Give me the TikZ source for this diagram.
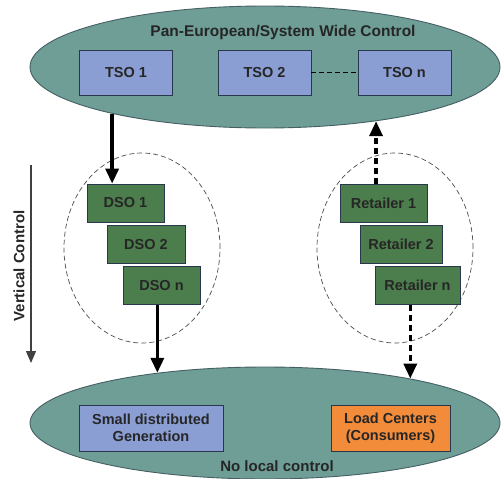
\documentclass[tikz,border=0pt]{standalone}
\usepackage{fontspec}
\setmainfont{Liberation Sans}
\usepackage{tikz}
\usetikzlibrary{arrows.meta}
\usetikzlibrary{shapes.geometric}
\definecolor{areagreen}{RGB}{110,158,150}
\definecolor{areaedge}{RGB}{70,95,100}
\definecolor{tsoblue}{RGB}{138,158,212}
\definecolor{boxedge}{RGB}{40,55,75}
\definecolor{dsogreen}{RGB}{76,125,76}
\definecolor{loadorange}{RGB}{242,140,58}
\colorlet{textdark}{black!85}

\begin{document}
\begin{tikzpicture}[x=1pt,y=-1pt,
		area/.style={ellipse, draw=areaedge, fill=areagreen, line width=0.9pt, inner sep=0pt},
		group/.style={ellipse, draw=black!70, dashed, dash pattern=on 5pt off 3pt, line width=0.7pt, inner sep=0pt},
		box/.style={draw=boxedge, line width=0.8pt, inner sep=0pt, align=center, text=textdark,
			font=\fontsize{14.5}{17}\selectfont\bfseries},
		tsobox/.style={box, fill=tsoblue, minimum width=93pt, minimum height=45pt},
		dsobox/.style={box, fill=dsogreen, minimum height=38pt},
		label/.style={text=textdark, font=\fontsize{15}{17}\selectfont\bfseries},
		ctrl/.style={line width=3.4pt, -{Triangle[width=13pt,length=15pt]}},
		ctrldash/.style={ctrl, dash pattern=on 6pt off 4pt}]
		\useasboundingbox (0,0) rectangle (501,479);
		% transmission level
		\node[area, minimum width=470pt, minimum height=122pt] (pan) at (265,67) {};
		\node[label, font=\fontsize{15.5}{17}\selectfont\bfseries] (pantitle) at (283,32) {Pan-European/System Wide Control};
		\node[tsobox] (tso1) at (126,72.5) {TSO 1};
		\node[tsobox] (tso2) at (264.5,72.5) {TSO 2};
		\node[tsobox] (tson) at (404.5,72.5) {TSO n};
		\draw[dashed, dash pattern=on 5pt off 3pt, line width=0.8pt] (tso2.east) -- (tson.west);
		% distribution and retail level
		\node[group, minimum width=156pt, minimum height=190pt] (dsogroup) at (142,248) {};
		\node[group, minimum width=156pt, minimum height=190pt] (retgroup) at (395,248) {};
		\node[dsobox, minimum width=77pt] (dso1) at (125.5,203) {DSO 1};
		\node[dsobox, minimum width=78pt] (dso2) at (146,244.5) {DSO 2};
		\node[dsobox, minimum width=77pt] (dson) at (161.5,285.5) {DSO n};
		\node[dsobox, minimum width=87pt] (ret1) at (383.5,203) {Retailer 1};
		\node[dsobox, minimum width=82pt] (ret2) at (401,244.5) {Retailer 2};
		\node[dsobox, minimum width=85pt] (retn) at (417.5,285.5) {Retailer n};
		% local level
		\node[area, minimum width=470pt, minimum height=112pt] (low) at (265,423) {};
		\node[box, fill=tsoblue, minimum width=144pt, minimum height=46pt] (gen) at (151,428) {Small distributed\\Generation};
		\node[box, fill=loadorange, minimum width=119pt, minimum height=46pt] (load) at (390.5,428) {Load Centers\\(Consumers)};
		\node[label] (nolocal) at (277,466) {No local control};
		% control flows
		\draw[ctrl] (pan.-163) -- (pan.-163 |- dso1.north);
		\draw[ctrldash] (ret1.north -| pan.-26.6) -- (pan.-26.6);
		\draw[ctrl] (dson.south -| low.155.3) -- (low.155.3);
		\draw[ctrldash] (retn.south -| low.17.1) -- (low.17.1);
		% vertical control axis
		\coordinate (vtop) at (31,165);
		\coordinate (vbot) at (31,363);
		\draw[black!75, line width=1.3pt, -{Triangle[width=10pt,length=12pt]}] (vtop) -- (vbot);
		\node[label, rotate=90] (vlabel) at (19,266) {Vertical Control};
	\end{tikzpicture}
\end{document}
